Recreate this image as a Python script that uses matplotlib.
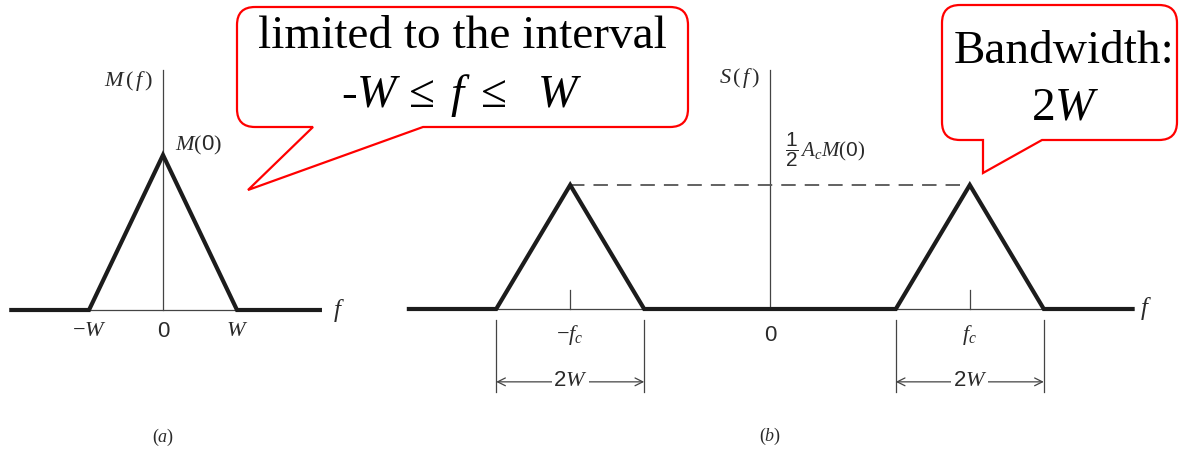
"""
spectrum of a message signal and of the DSB-SC modulated wave,
with two red speech-bubble callouts
"""

import matplotlib.pyplot as plt
import numpy as np
from matplotlib.path import Path
from matplotlib.patches import PathPatch

plt.rcParams['font.family'] = ['Liberation Serif', 'DejaVu Sans']
plt.rcParams['mathtext.fontset'] = 'custom'
plt.rcParams['mathtext.rm'] = 'Liberation Serif'
plt.rcParams['mathtext.it'] = 'Liberation Serif:italic'
plt.rcParams['mathtext.sf'] = 'Liberation Sans'

# figure size in pixels
FIG_W, FIG_H = 1180, 455

# frequencies in units of W, magnitudes in units of M(0)
W = 1.0
FC = 2.7

freq_a = [-2.05, -1.0, 0.0, 1.0, 2.12]
mag_a = [0.0, 0.0, 1.0, 0.0, 0.0]
ticks_a = [-1.0, 0.0, 1.0]
tick_labels_a = [r'$-W$', '0', r'$W$']

freq_b = [-4.88, -3.7, -2.7, -1.7, 1.7, 2.7, 3.7, 4.9]
mag_b = [0.0, 0.0, 0.8, 0.0, 0.0, 0.8, 0.0, 0.0]
ticks_b = [-2.7, 0.0, 2.7]
tick_labels_b = [r'$-f_c$', '0', r'$f_c$']
bands_b = [(-3.7, -1.7), (1.7, 3.7)]

AXIS_COL = '#444444'
CURVE_COL = '#1c1c1c'
TEXT_COL = '#2a2a2a'


def place_axes(fig, left_px, right_px, origin_x, origin_y, unit_x, unit_y):
    """
    adds an invisible axes whose data units are fixed pixel sizes
    """
    ax = fig.add_axes([left_px / FIG_W, 0, (right_px - left_px) / FIG_W, 1])
    ax.set_xlim((left_px - origin_x) / unit_x, (right_px - origin_x) / unit_x)
    ax.set_ylim((origin_y - FIG_H) / unit_y, origin_y / unit_y)
    ax.axis('off')
    return ax


def tick_text(ax, ticks, labels, y):
    for pos, lab in zip(ticks, labels):
        fam = 'Liberation Sans' if lab == '0' else None
        ax.text(pos, y, lab, ha='center', va='center', fontsize=16,
                color=TEXT_COL, family=fam)


def bubble(ax, x0, x1, y0, y1, r, base_right, tip, base_left):
    """
    rounded rectangle with a pointer, pixel coords with y going down
    """
    verts = [(x0 + r, y0), (x1 - r, y0), (x1, y0), (x1, y0 + r),
             (x1, y1 - r), (x1, y1), (x1 - r, y1),
             (base_right, y1), tip, (base_left, y1),
             (x0 + r, y1), (x0, y1), (x0, y1 - r),
             (x0, y0 + r), (x0, y0), (x0 + r, y0)]
    codes = [Path.MOVETO, Path.LINETO, Path.CURVE3, Path.CURVE3,
             Path.LINETO, Path.CURVE3, Path.CURVE3,
             Path.LINETO, Path.LINETO, Path.LINETO,
             Path.LINETO, Path.CURVE3, Path.CURVE3,
             Path.LINETO, Path.CURVE3, Path.CURVE3]
    ax.add_patch(PathPatch(Path(verts, codes), facecolor='white',
                           edgecolor='#ff0000', lw=1.6, zorder=5))


fig = plt.figure(figsize=(FIG_W / 100, FIG_H / 100), dpi=100)

# panel (a)
ax_a = place_axes(fig, 0, 370, 163, 310, 74, 155)
ax_a.plot([freq_a[0], freq_a[-1]], [0, 0], color=AXIS_COL, lw=0.9)
ax_a.plot([0, 0], [0, 1.55], color=AXIS_COL, lw=0.9)
ax_a.plot(freq_a, mag_a, color=CURVE_COL, lw=3, solid_joinstyle='miter')
tick_text(ax_a, ticks_a, tick_labels_a, -0.14)
ax_a.text(freq_a[-1] + 0.18, 0.0, r'$f$', ha='left', va='center',
          fontsize=18, color=TEXT_COL)
ax_a.text(-0.13, 1.48, r'$M\,(\,f\,)$', ha='right', va='center',
          fontsize=16, color=TEXT_COL)
ax_a.text(0.16, 1.06, r'$M(\mathsf{0})$', ha='left', va='center',
          fontsize=16, color=TEXT_COL)
ax_a.text(0.0, -0.82, r'$(a)$', ha='center', va='center', fontsize=13,
          color=TEXT_COL)

# panel (b)
ax_b = place_axes(fig, 370, 1180, 770, 309, 74, 155)
ax_b.plot([freq_b[0], freq_b[-1]], [0, 0], color=AXIS_COL, lw=0.9)
ax_b.plot([0, 0], [0, 1.54], color=AXIS_COL, lw=0.9)
ax_b.plot([-FC, FC], [mag_b[2], mag_b[5]], color='#555555', lw=1.3,
          dashes=(8, 5))
for t in (-FC, FC):
    ax_b.plot([t, t], [0, 0.12], color=AXIS_COL, lw=0.9)
ax_b.plot(freq_b, mag_b, color=CURVE_COL, lw=3, solid_joinstyle='miter')
tick_text(ax_b, ticks_b, tick_labels_b, -0.17)

for lo, hi in bands_b:
    for edge in (lo, hi):
        ax_b.plot([edge, edge], [-0.07, -0.535], color=AXIS_COL, lw=0.9)
    ax_b.annotate('', xy=(lo, -0.47), xytext=(hi, -0.47),
                  arrowprops=dict(arrowstyle='<->', color=AXIS_COL, lw=0.9,
                                  shrinkA=0, shrinkB=0,
                                  mutation_scale=14))
    ax_b.text((lo + hi) / 2, -0.47, r'$\mathsf{2}W$', ha='center',
              va='center', fontsize=16, color=TEXT_COL,
              bbox=dict(facecolor='white', edgecolor='none', pad=1))

ax_b.text(freq_b[-1] + 0.1, 0.0, r'$f$', ha='left', va='center',
          fontsize=18, color=TEXT_COL)
ax_b.text(-0.13, 1.49, r'$S\,(\,f\,)$', ha='right', va='center',
          fontsize=16, color=TEXT_COL)
ax_b.text(0.2, 1.03, r'$\dfrac{\mathsf{1}}{\mathsf{2}}\,A_cM(\mathsf{0})$',
          ha='left', va='center', fontsize=15, color=TEXT_COL)
ax_b.text(0.0, -0.82, r'$(b)$', ha='center', va='center', fontsize=13,
          color=TEXT_COL)

# callouts, drawn in pixel coordinates
ax_c = fig.add_axes([0, 0, 1, 1], zorder=10)
ax_c.set_xlim(0, FIG_W)
ax_c.set_ylim(FIG_H, 0)
ax_c.axis('off')
ax_c.patch.set_alpha(0)

bubble(ax_c, 237, 688, 7, 127, 18, 423, (248, 190), 313)
ax_c.text(462, 48, 'limited to the interval', ha='center', va='baseline',
          fontsize=34, zorder=6)
ax_c.text(462, 107, r'-$W\, \leq\; f\; \leq\;\;\, W$', ha='center',
          va='baseline', fontsize=34, zorder=6)

bubble(ax_c, 942, 1177, 5, 140, 18, 1042, (983, 173), 983)
ax_c.text(1064, 63, 'Bandwidth:', ha='center', va='baseline', fontsize=34,
          zorder=6)
ax_c.text(1065, 119, r'$2W$', ha='center', va='baseline', fontsize=34,
          zorder=6)

fig.savefig('out.png', dpi=100)
